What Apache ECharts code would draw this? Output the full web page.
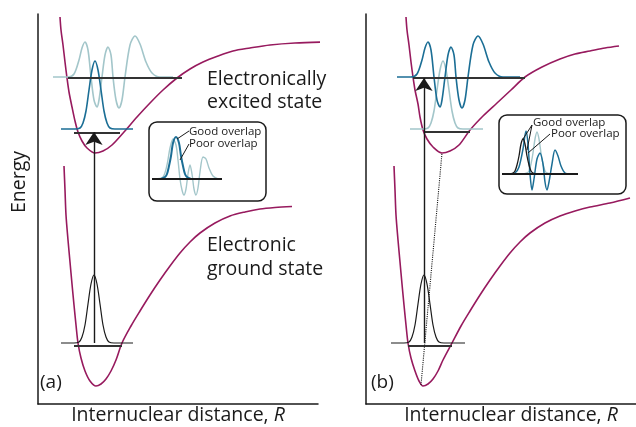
<!DOCTYPE html>
<html><head><meta charset="utf-8">
<script src="https://cdn.jsdelivr.net/npm/echarts@6/dist/echarts.min.js"></script>
<style>html,body{margin:0;padding:0;background:#fff}#c{width:636px;height:427px}</style>
</head><body><div id="c"></div>
<script>
// ---- Data (R in arbitrary units from the energy axis, Energy in arbitrary units above the R axis) ----
// Panel (a)
const excitedCurveA = [[22,387],[23,374],[25,359],[27,342],[29,326],[31,312],[34,297],[37,283],[40,272],[44,263],[49,256],[57,251],[65,253],[74,259],[86,272],[99,287],[112,301],[125,314],[139,326],[152,335],[165,342],[180,348],[195,353],[212,356],[232,359],[257,361],[287,362]];
const groundCurveA  = [[26,238],[27,214],[28,189],[30,164],[32,142],[34,120],[36,99],[38,79],[40,61],[43,46],[47,33],[52,23],[58,18],[63,20],[68,25],[73,33],[78,44],[84,61],[93,78],[102,93],[112,109],[122,124],[132,138],[142,151],[152,162],[162,171],[177,181],[192,188],[207,192],[222,195],[237,196.5],[254,197.5]];
const groundLevelA   = [[36,58],[84,58]];
const excitedLevel0A = [[36,271],[82,271]];
const excitedLevelVA = [[30,326],[144,326]];
const groundWaveA    = [[23,61],[36,61],[41,62],[44,67],[47,79],[50,100],[53,120],[56,129],[59,120],[62,100],[65,79],[68,67],[71,62],[76,61],[95,61]];
const excitedWave0A  = [[23,275],[37,275],[42,276],[45,281],[48,293],[51,314],[54,334],[57,343],[60,334],[63,314],[66,293],[69,281],[72,276],[77,275],[95,275]];
const excitedWaveVA  = [[15,327],[30,327],[36,330],[41,344],[44,356],[47,362],[50,354],[53,327],[56,304],[59,297],[61,304],[64,327],[67,349],[70,357],[73,349],[75,327],[78,304],[81,296],[84,304],[87,327],[92,359],[97,368],[102,360],[108,342],[114,331],[122,327],[135,327]];
const transitionA    = [[56,61],[56,272]];
// Panel (b)
const excitedCurveB = [[40,387],[41,374],[43,359],[45,342],[47,327],[49,314],[52,300],[54,287],[57,274],[61,265],[67,257],[76,251],[84,253],[93,259],[104,274],[117,288],[131,301],[145,314],[159,327],[176,337],[194,345],[209,350],[224,353],[239,356],[253,358]];
const groundCurveB  = [[28,238],[29,214],[30,189],[32,164],[34,142],[36,120],[38,99],[40,79],[42,61],[45,46],[49,33],[53,23],[57,18],[62,20],[67,25],[72,33],[77,44],[86,61],[95,78],[104,93],[114,109],[124,124],[134,138],[144,151],[154,162],[164,171],[179,181],[194,188],[209,193],[224,197],[244,201],[264,206]];
const groundLevelB   = [[42,58],[86,58]];
const excitedLevel0B = [[59,272],[104,272]];
const excitedLevelVB = [[47,326],[159,326]];
const groundWaveB    = [[25,61],[38,61],[43,62],[46,67],[49,79],[52,100],[55,120],[58,129],[61,120],[64,100],[67,79],[70,67],[73,62],[78,61],[99,61]];
const excitedWave0B  = [[44,275],[57,275],[62,276],[65,281],[68,293],[71,314],[74,334],[77,343],[80,334],[83,314],[86,293],[89,281],[92,276],[97,275],[117,275]];
const excitedWaveVB  = [[31,327],[45,327],[51,330],[56,344],[59,356],[62,362],[65,354],[68,327],[71,304],[74,297],[76,304],[79,327],[82,349],[85,357],[88,349],[90,327],[93,304],[96,296],[99,304],[102,327],[107,359],[112,368],[117,360],[123,342],[129,331],[137,327],[154,327]];
const transitionB    = [[58,61],[58,326]];
const minimaLineB    = [[55,19],[76,251]];
// Inset (a)
const insetBaseA   = [[3,22],[73,22]];
const insetGoodA   = [[12,22],[16,24],[18,27],[20,35],[22,45],[24,58],[27,64],[30,58],[32,45],[34,35],[36,27],[38,24],[42,22]];
const insetPoorA   = [[6,22],[14,24],[18,36],[21,53],[24,62],[27,56],[29,41],[31,22],[33,11],[35,6],[37,12],[39,27],[41,36],[43,27],[45,12],[47,6],[49,13],[51,29],[54,44],[57,42],[60,33],[64,25],[69,22]];
const insetLeadGoodA = [[40,70],[28,62]];
const insetLeadPoorA = [[40,57],[31,41]];
// Inset (b)
const insetBaseB   = [[3,20],[79,20]];
const insetGroundB = [[10,20],[14,21],[16,23],[18,29],[20,38],[22,50],[24,55],[26,50],[28,38],[30,29],[32,23],[34,21],[38,20]];
const insetGoodB   = [[24,20],[28,21],[30,23],[32,30],[34,41],[36,55],[38,62],[40,55],[42,41],[44,30],[46,23],[48,21],[52,20]];
const insetPoorB   = [[10,20],[16,21],[20,27],[24,45],[27,63],[29,50],[31,20],[33,4],[35,15],[38,35],[41,41],[44,30],[46,12],[48,4],[50,12],[53,30],[56,44],[59,38],[62,28],[66,21],[72,20],[79,20]];
const insetLeadGoodB1 = [[33,69],[24,55]];
const insetLeadGoodB2 = [[33,69],[28,44]];
const insetLeadPoorB  = [[51,60],[29,41]];

const labels = {
  excited: ['Electronically', 'excited state'],
  ground: ['Electronic', 'ground state'],
  good: 'Good overlap', poor: 'Poor overlap',
  xName: 'Internuclear distance, ', xVar: 'R', yName: 'Energy', panelA: '(a)', panelB: '(b)'
};

const MAROON = '#971a5e', DARK = '#1b6e95', LIGHT = '#a3c6ca', INK = '#1a1a1a';
const FONT = '"Open Sans", "Liberation Sans", sans-serif';
const BIG = 19.5;

function ln(data, color, width, gi, smooth, type) {
  return { type: 'line', xAxisIndex: gi, yAxisIndex: gi, data: data, showSymbol: false, symbol: 'none',
    smooth: smooth === undefined ? 0.3 : smooth, clip: false, silent: true, animation: false,
    lineStyle: { color: color, width: width, type: type || 'solid' }, z: 3 };
}
function arrow(coords, gi) {
  return { type: 'lines', coordinateSystem: 'cartesian2d', xAxisIndex: gi, yAxisIndex: gi, silent: true, animation: false,
    symbol: ['none', 'arrow'], symbolSize: [9, 13],
    lineStyle: { color: INK, width: 1.4, opacity: 1, curveness: 0 },
    data: [{ coords: coords }], z: 5 };
}
function axisX(gi, max, show) {
  return { type: 'value', gridIndex: gi, min: 0, max: max,
    axisLine: { show: show, onZero: false, lineStyle: { color: INK, width: 1.5 } },
    axisTick: { show: false }, axisLabel: { show: false }, splitLine: { show: false },
    name: show ? labels.xName + '{i|' + labels.xVar + '}' : '', nameLocation: 'middle', nameGap: 1,
    nameTextStyle: { color: INK, fontSize: BIG, fontFamily: FONT,
      rich: { i: { fontStyle: 'italic', fontSize: BIG, fontFamily: FONT, color: INK } } } };
}
function axisY(gi, max, show) {
  return { type: 'value', gridIndex: gi, min: 0, max: max,
    axisLine: { show: show, onZero: false, lineStyle: { color: INK, width: 1.5 } },
    axisTick: { show: false }, axisLabel: { show: false }, splitLine: { show: false } };
}
function txt(s, x, y, size, rot) {
  return { type: 'text', x: x, y: y, rotation: rot || 0, silent: true, z: 10,
    style: { text: s, fill: INK, font: (size || BIG) + 'px ' + FONT, verticalAlign: 'middle', align: rot ? 'center' : 'left' } };
}
function grid(l, t, w, h) {
  return { left: l, top: t, width: w, height: h, containLabel: false, outerBoundsMode: 'none' };
}

const chart = echarts.init(document.getElementById('c'), null, { renderer: 'canvas' });
chart.setOption({
  animation: false,
  backgroundColor: '#ffffff',
  grid: [grid(38, 14, 280, 390), grid(366, 14, 290, 390), grid(149, 122, 117, 79), grid(499, 115, 127, 79)],
  xAxis: [axisX(0, 280, true), axisX(1, 290, true), axisX(2, 117, false), axisX(3, 127, false)],
  yAxis: [axisY(0, 390, true), axisY(1, 390, true), axisY(2, 79, false), axisY(3, 79, false)],
  graphic: [
    { type: 'rect', shape: { x: 149, y: 122, width: 117, height: 79, r: 8 }, style: { fill: 'none', stroke: INK, lineWidth: 1.5 }, silent: true },
    { type: 'rect', shape: { x: 499, y: 115, width: 127, height: 79, r: 8 }, style: { fill: 'none', stroke: INK, lineWidth: 1.5 }, silent: true },
    txt(labels.yName, 19, 182, BIG, Math.PI / 2),
    txt(labels.excited[0], 207, 79), txt(labels.excited[1], 207, 102),
    txt(labels.ground[0], 207, 245), txt(labels.ground[1], 207, 269),
    txt(labels.panelA, 40, 383, 19), txt(labels.panelB, 371, 383, 19),
    txt(labels.good, 189, 132, 11.5), txt(labels.poor, 189, 144, 11.5),
    txt(labels.good, 533, 123, 11.5), txt(labels.poor, 551, 134, 11.5)
  ],
  series: [
    // panel (a)
    ln(excitedCurveA, MAROON, 1.6, 0), ln(groundCurveA, MAROON, 1.6, 0),
    ln(excitedWaveVA, LIGHT, 1.6, 0), ln(excitedWave0A, DARK, 1.6, 0), ln(groundWaveA, INK, 1.2, 0),
    ln(groundLevelA, '#333', 1.8, 0, false), ln(excitedLevel0A, '#333', 1.8, 0, false), ln(excitedLevelVA, '#333', 1.8, 0, false),
    arrow(transitionA, 0),
    // panel (b)
    ln(excitedCurveB, MAROON, 1.6, 1), ln(groundCurveB, MAROON, 1.6, 1),
    ln(excitedWave0B, LIGHT, 1.6, 1), ln(excitedWaveVB, DARK, 1.6, 1), ln(groundWaveB, INK, 1.2, 1),
    ln(groundLevelB, '#333', 1.8, 1, false), ln(excitedLevel0B, '#333', 1.8, 1, false), ln(excitedLevelVB, '#333', 1.8, 1, false),
    ln(minimaLineB, INK, 1.1, 1, false, 'dotted'),
    arrow(transitionB, 1),
    // inset (a)
    ln(insetPoorA, LIGHT, 1.4, 2), ln(insetGoodA, DARK, 2, 2), ln(insetBaseA, INK, 1.8, 2, false),
    ln(insetLeadGoodA, INK, 1, 2, false), ln(insetLeadPoorA, INK, 1, 2, false),
    // inset (b)
    ln(insetGoodB, LIGHT, 1.4, 3), ln(insetPoorB, DARK, 1.5, 3), ln(insetGroundB, INK, 1.3, 3), ln(insetBaseB, INK, 1.8, 3, false),
    ln(insetLeadGoodB1, INK, 1, 3, false), ln(insetLeadGoodB2, INK, 1, 3, false), ln(insetLeadPoorB, INK, 1, 3, false)
  ]
});
</script></body></html>
